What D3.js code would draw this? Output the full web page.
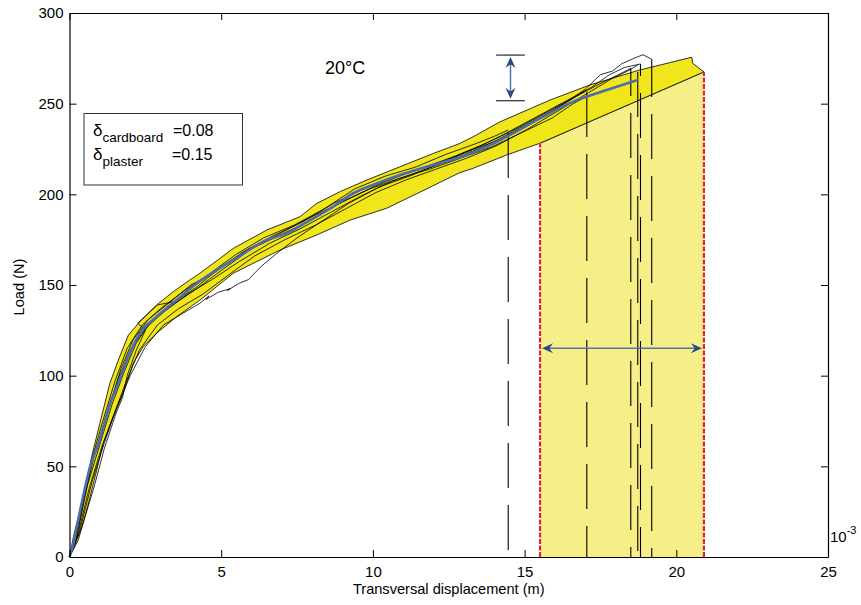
<!DOCTYPE html>
<head>
<meta charset="utf-8">
<script src="https://d3js.org/d3.v7.min.js"></script>
<style>
  body { margin: 0; background: #fff; }
  text { font-family: "Liberation Sans", Arial, sans-serif; }
</style>
</head>
<body>
<div id="chart"></div>
<script>
// ticks
var tickX = [0, 5, 10, 15, 20, 25];
var tickY = [0, 50, 100, 150, 200, 250, 300];

// mean curve (blue)
var meanCurve = [[0,0],[0.13,7.5],[0.4,29.6],[0.68,49.8],[1.0,64.5],[1.34,84.8],[1.61,95.8],[1.94,110.5],
  [2.32,123.4],[2.87,132.5],[3.53,141.7],[4.08,149.4],[5.4,163.8],[6.5,174.8],[7.16,178.5],[7.93,185.8],
  [8.69,193.2],[9.35,200.6],[10.12,206],[10.89,210.7],[11.77,215.2],[12.87,220.5],[13.31,223],
  [14.41,231.8],[15.51,241.9],[16.6,251.1],[17.71,257.5],[18.75,263.2]];

// yellow envelope
var bandUpper = [[0,0],[0.13,11.2],[0.45,33.3],[0.73,55.3],[1.0,73.7],[1.33,95.8],[1.61,108.6],[1.94,122.4],
  [2.32,129.8],[2.87,139],[3.42,146.3],[3.97,152.8],[4.3,156.5],[5.4,170.2],[6.5,180.3],[7.6,187.7],
  [8.15,195],[8.92,201.5],[9.8,207.9],[10.89,215.2],[12.0,222.6],[12.87,228.1],[13.31,231.8],[14.19,240],
  [15.84,252],[17.15,260.3],[18.8,268.6],[20.51,275.6],[20.54,272.3],[20.91,267.5]];
var bandLower = [[0,0],[0.29,9.4],[0.57,25.9],[0.9,48],[1.11,62.7],[1.44,77.4],[1.77,90.3],[2.1,106.8],
  [2.43,116],[2.87,123.4],[3.53,132.5],[4.3,141.7],[5.4,156.5],[6.94,169.3],[8.15,177.6],[9.25,185.8],
  [10.45,192.3],[11.77,203],[12.87,212],[13.31,214.4],[14.41,221.7],[15.51,228.2],[20.91,267.5]];

// failure region
var failRange = [15.51, 20.91];
var failTop = [228.2, 267.5];
var loadRange = [251.6, 276.8];
var loadRangeX = [14.06, 15.01];
var arrowLoad = 115.1;

// individual tests
var test1 = [[0,0],[0.3,18],[0.7,52],[1.1,75],[1.5,97],[1.9,115],[2.4,128],[3.0,137],[3.8,147],[4.6,156],
  [5.5,167],[6.4,176],[7.4,183],[8.4,192],[9.4,203],[10.4,210],[11.4,215],[12.4,222],[13.4,228],[14.0,232],[14.46,235.5]];
var test2 = [[0,0],[0.25,12],[0.6,40],[1.0,62],[1.4,84],[1.8,102],[2.2,118],[2.7,130],[3.4,139],[4.2,148],
  [5.0,158],[6.0,170],[7.0,178],[8.0,186],[9.0,196],[10.0,204],[11.0,211],[12.0,216],[13.0,223],[14.0,229],
  [15.0,238],[16.0,247],[16.6,253],[17.05,257.6]];
var test3 = [[0,0],[0.2,10],[0.5,36],[0.85,58],[1.25,80],[1.7,104],[2.1,120],[2.6,131],[3.2,139],[4.0,150],
  [4.8,157],[5.7,168],[6.7,177],[7.7,185],[8.7,195],[9.7,203],[10.7,209],[11.7,215],[12.7,221],[13.7,228],
  [14.7,236],[15.7,245],[16.7,254],[17.6,262],[18.1,266],[18.5,269.5]];
var test4 = [[0,0],[0.3,14],[0.65,38],[1.05,60],[1.45,78],[1.85,96],[2.3,114],[2.9,128],[3.6,137],[4.4,145],
  [5.2,155],[6.1,166],[7.1,175],[8.1,183],[9.1,192],[10.1,201],[11.1,208],[12.1,214],[13.1,220],[14.1,227],
  [15.1,236],[16.1,246],[17.1,256],[17.9,264],[18.4,268],[18.73,271.3]];
var test5 = [[0,0],[0.35,15],[0.75,42],[1.15,63],[1.55,82],[2.0,100],[2.5,116],[3.1,128],[3.7,134],[4.3,140],
  [4.6,144],[4.5,142],[4.9,146],[5.3,148],[5.2,147],[5.6,151],[5.9,153],[6.3,160],[6.8,167],[7.5,176],[8.3,185],
  [9.2,195],[10.2,204],[11.2,210],[12.2,217],[13.2,224],[14.2,232],[15.2,241],[16.2,250],[17.2,259],[17.8,266],
  [18.3,270],[18.82,271.9]];
var test6 = [[0,0],[0.2,8],[0.45,30],[0.8,55],[1.2,76],[1.6,98],[2.0,114],[2.5,126],[3.1,135],[3.9,145],
  [4.7,153],[5.6,163],[6.6,173],[7.6,181],[8.6,190],[9.6,199],[10.6,207],[11.6,213],[12.6,219],[13.6,226],
  [14.6,234],[15.6,243],[16.4,251],[17.0,258],[17.5,266],[17.9,268],[18.2,272],[18.6,275],[18.9,277],[19.19,274.5]];
var test7 = [[0,0],[0.4,16],[0.8,38],[1.15,60],[1.55,80],[1.75,88],[1.9,100],[2.2,114],[2.5,125],[2.25,129],
  [2.9,139],[3.5,141],[4.2,149],[5.0,160],[5.9,170],[6.9,178],[7.9,187],[8.9,195],[9.9,203],[10.9,209],
  [11.9,214],[12.9,220],[13.9,226],[14.9,234],[15.9,242],[16.6,250],[17.05,254]];
var tests = [test1, test2, test3, test4, test5, test6, test7];

// failure points (dashed verticals)
var failures = [[14.46,235.5],[17.05,257.6],[18.5,269.5],[18.73,271.3],[18.82,271.9],[19.19,274.5]];

var W = 861, H = 605;
var x = d3.scaleLinear().domain([0, 25]).range([69.5, 828]);
var y = d3.scaleLinear().domain([0, 300]).range([557, 13]);

var svg = d3.select("#chart").append("svg")
  .attr("width", W).attr("height", H);

var line = d3.line().x(function(d){ return x(d[0]); }).y(function(d){ return y(d[1]); });

// light yellow failure region
svg.append("path")
  .attr("d", line([[failRange[0],0],[failRange[0],failTop[0]],[failRange[1],failTop[1]],[failRange[1],0]]))
  .attr("fill", "#f6ef88").attr("stroke", "#000").attr("stroke-width", 0.8);

// bright yellow band
var bandPoly = bandUpper.concat(bandLower.slice().reverse());
svg.append("path")
  .attr("d", line(bandPoly) + "Z")
  .attr("fill", "#f1e51b").attr("stroke", "#000").attr("stroke-width", 0.8);

// test curves
svg.append("g").selectAll("path")
  .data(tests)
  .enter().append("path")
    .attr("d", line)
    .attr("fill", "none")
    .attr("stroke", "#000")
    .attr("stroke-width", 0.8);

// failure verticals
svg.append("g").selectAll("line")
  .data(failures)
  .enter().append("line")
    .attr("x1", function(d){ return x(d[0]); })
    .attr("x2", function(d){ return x(d[0]); })
    .attr("y1", y(0))
    .attr("y2", function(d){ return y(d[1]); })
    .attr("stroke", "#000")
    .attr("stroke-width", 1.1)
    .attr("stroke-dasharray", "45,17")
    .attr("stroke-dashoffset", function(d, i){ return 55 + i * 21; });

// mean curve
svg.append("path")
  .datum(meanCurve)
  .attr("d", line.curve(d3.curveMonotoneX))
  .attr("fill", "none")
  .attr("stroke", "#4a6cb3")
  .attr("stroke-width", 2.6);
line.curve(d3.curveLinear);

// red dashed borders
failRange.forEach(function(v, i){
  svg.append("line")
    .attr("x1", x(v)).attr("x2", x(v)).attr("y1", y(0)).attr("y2", y(failTop[i]))
    .attr("stroke", "#fff").attr("stroke-width", 2.2);
  svg.append("line")
    .attr("x1", x(v)).attr("x2", x(v)).attr("y1", y(0)).attr("y2", y(failTop[i]))
    .attr("stroke", "#e3242b").attr("stroke-width", 2.2)
    .attr("stroke-dasharray", "5,1.5");
});

// axes
var axes = svg.append("g");
axes.append("g").attr("transform", "translate(0," + y(0) + ")")
  .call(d3.axisBottom(x).tickValues(tickX).tickSizeInner(-7).tickSizeOuter(0).tickPadding(9));
axes.append("g").attr("transform", "translate(0," + y(300) + ")")
  .call(d3.axisTop(x).tickValues(tickX).tickSizeInner(-7).tickSizeOuter(0).tickFormat(""));
axes.append("g").attr("transform", "translate(" + x(0) + ",0)")
  .call(d3.axisLeft(y).tickValues(tickY).tickSizeInner(-7).tickSizeOuter(0).tickPadding(6));
axes.append("g").attr("transform", "translate(" + x(25) + ",0)")
  .call(d3.axisRight(y).tickValues(tickY).tickSizeInner(-7).tickSizeOuter(0).tickFormat(""));
axes.selectAll("text").attr("font-size", 15).attr("fill", "#000")
  .attr("font-family", "'Liberation Sans', Arial, sans-serif");
axes.selectAll(".domain").attr("stroke", "#000").attr("stroke-width", 1.2);
axes.selectAll(".tick line").attr("stroke", "#000");

// arrows
function arrowHead(tx, ty, dx, dy) {
  var L = 11, Wd = 10, nx = -dy, ny = dx;
  var bx = tx - dx * L, by = ty - dy * L;
  var p = d3.path();
  p.moveTo(tx, ty);
  p.lineTo(bx + nx * Wd / 2, by + ny * Wd / 2);
  p.lineTo(tx - dx * L * 0.65, ty - dy * L * 0.65);
  p.lineTo(bx - nx * Wd / 2, by - ny * Wd / 2);
  p.closePath();
  svg.append("path").attr("d", p.toString()).attr("fill", "#2b4b80");
}
var shaft = "#5274ad";
// vertical load range
var ax = x((loadRangeX[0] + loadRangeX[1]) / 2);
loadRange.forEach(function(v){
  svg.append("line").attr("x1", x(loadRangeX[0])).attr("x2", x(loadRangeX[1]))
    .attr("y1", y(v)).attr("y2", y(v)).attr("stroke", "#000").attr("stroke-width", 1);
});
svg.append("line").attr("x1", ax).attr("x2", ax)
  .attr("y1", y(loadRange[1]) + 6).attr("y2", y(loadRange[0]) - 6)
  .attr("stroke", shaft).attr("stroke-width", 1.5);
arrowHead(ax, y(loadRange[1]) + 2, 0, -1);
arrowHead(ax, y(loadRange[0]) - 2, 0, 1);
// horizontal displacement range
var ay = y(arrowLoad);
svg.append("line").attr("x1", x(failRange[0]) + 6).attr("x2", x(failRange[1]) - 6)
  .attr("y1", ay).attr("y2", ay).attr("stroke", shaft).attr("stroke-width", 1.5);
arrowHead(x(failRange[0]) + 2, ay, -1, 0);
arrowHead(x(failRange[1]) - 2, ay, 1, 0);

// labels
svg.append("text").attr("x", (x(0) + x(25)) / 2).attr("y", 594)
  .attr("text-anchor", "middle").attr("font-size", 14.6).text("Transversal displacement (m)");
svg.append("text").attr("transform", "translate(24," + (y(150) + 2) + ") rotate(-90)")
  .attr("text-anchor", "middle").attr("font-size", 14.6).text("Load (N)");
svg.append("text").attr("x", 325).attr("y", 74).attr("font-size", 18).text("20°C");

var e3 = svg.append("text").attr("x", 830).attr("y", 542).attr("font-size", 15);
e3.append("tspan").text("10");
e3.append("tspan").attr("dy", -8).attr("font-size", 11).text("-3");

// legend box
svg.append("rect").attr("x", 84).attr("y", 113.5).attr("width", 158.5).attr("height", 71.5)
  .attr("fill", "#fff").attr("stroke", "#333").attr("stroke-width", 1);
var l1 = svg.append("text").attr("x", 93).attr("y", 136).attr("font-size", 17);
l1.append("tspan").text("δ");
l1.append("tspan").attr("dy", 6).attr("font-size", 13.5).text("cardboard");
l1.append("tspan").attr("x", 173).attr("dy", -6).attr("font-size", 16).text("=0.08");
var l2 = svg.append("text").attr("x", 93).attr("y", 160).attr("font-size", 17);
l2.append("tspan").text("δ");
l2.append("tspan").attr("dy", 6).attr("font-size", 13.5).text("plaster");
l2.append("tspan").attr("x", 172).attr("dy", -6).attr("font-size", 16).text("=0.15");
</script>
</body>
</html>
